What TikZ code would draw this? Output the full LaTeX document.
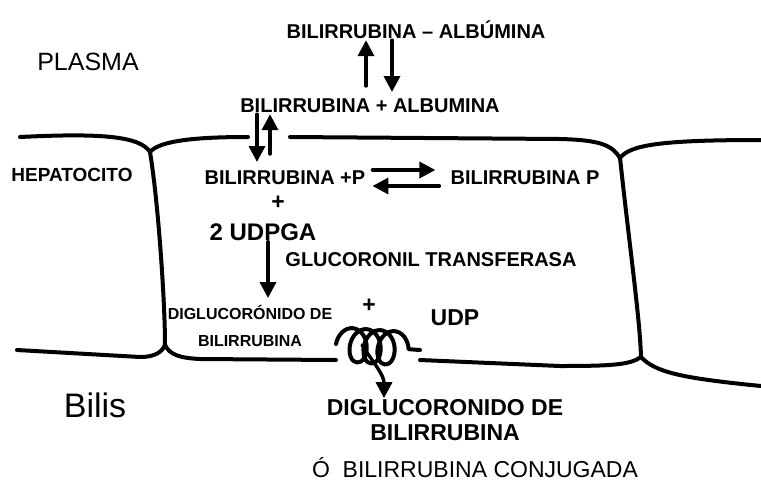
\documentclass[tikz,border=0pt]{standalone}
\usepackage{fontspec}
\setmainfont{Liberation Sans}
\usetikzlibrary{arrows.meta,decorations.pathmorphing}

\begin{document}
\begin{tikzpicture}[x=1pt, y=-1pt, >={Triangle[length=16pt,width=16pt]},
                    line cap=round, line join=round,
                    wall/.style={line width=4pt},
                    arr/.style={line width=3.4pt, ->},
                    lbl/.style={inner sep=1pt, font=\bfseries\fontsize{20}{24}\selectfont},
                    big/.style={inner sep=1pt, font=\fontsize{25}{28}\selectfont},
                    mid/.style={inner sep=1pt, font=\bfseries\fontsize{23}{25}\selectfont}]
  \useasboundingbox (0,0) rectangle (761,499);

  % regions
  \node[big] (plasma) at (88,62) {PLASMA};
  \node[big, font=\fontsize{34}{36}\selectfont] (bilis) at (95,405) {Bilis};
  \node[lbl, font=\bfseries\fontsize{19}{22}\selectfont] (hepa) at (72,175) {HEPATOCITO};

  % plasma side
  \node[lbl] (bilalb) at (416,30) {BILIRRUBINA -- ALBÚMINA};
  \node[lbl] (bilplus) at (370,106) {BILIRRUBINA + ALBUMINA};

  % inside the cell
  \node[lbl] (bilp) at (285,178) {BILIRRUBINA +P};
  \node[lbl] (bilP) at (525,178) {BILIRRUBINA P};
  \node[mid] (plus1) at (278,203) {+};
  \node[mid, font=\bfseries\fontsize{24}{26}\selectfont] (udpga) at (263,232) {2 UDPGA};
  \node[lbl] (enz) at (431,260) {GLUCORONIL TRANSFERASA};
  \node[lbl, font=\bfseries\fontsize{16}{27}\selectfont, align=center] (dig1) at (250,326) {DIGLUCORÓNIDO DE\\BILIRRUBINA};
  \node[mid] (plus2) at (369,306) {+};
  \node[mid] (udp) at (455,318) {UDP};

  % bile side
  \node[mid, align=center] (dig2) at (445,420) {DIGLUCORONIDO DE\\BILIRRUBINA};
  \node[inner sep=1pt, font=\fontsize{23}{25}\selectfont] (conj) at (475,468) {Ó \ BILIRRUBINA CONJUGADA};

  % cell walls
  \draw[wall] (20,137) .. controls (100,133) and (140,136) .. (150,152);
  \draw[wall] (150,152) .. controls (160,140) and (200,137) .. (248,137);
  \draw[wall] (290,137) -- (560,139) .. controls (600,140) and (612,145) .. (620,158);
  \draw[wall] (620,158) .. controls (630,145) and (660,140) .. (761,140);
  \draw[wall] (150,152) .. controls (158,200) and (165,300) .. (165,345);
  \draw[wall] (620,158) .. controls (630,250) and (640,320) .. (641,357);
  \draw[wall] (17,350) -- (140,357) .. controls (155,357) and (162,352) .. (165,345);
  \draw[wall] (165,345) .. controls (170,355) and (180,358) .. (200,359) -- (336,360);
  \draw[wall] (420,360) -- (560,366) .. controls (610,366) and (630,365) .. (641,357);
  \draw[wall] (641,357) .. controls (655,372) and (680,378) .. (761,386);

  % transporter
  \coordinate (sq1) at (336,344);
  \coordinate (sq2) at (420,350);
  \draw[wall, decorate, decoration={coil, amplitude=17pt, segment length=14pt, aspect=0.7}] (sq1) -- (sq2);
  \coordinate (sqout) at (362,345);

  % arrows
  \path[arr]
    (366,86) edge (bilalb.south -| 366,0)
    (bilalb.south -| 392,0) edge (392,92)
    (bilplus.south -| 257,0) edge (257,162)
    (270,154) edge (bilplus.south -| 270,0)
    (udpga.south -| 268,0) edge (268,298);
  \draw[arr] ([xshift=6pt,yshift=8pt]bilp.east) -- ([xshift=-14pt,yshift=8pt]bilP.west);
  \draw[arr] ([xshift=-10pt,yshift=-8pt]bilP.west) -- ([xshift=6pt,yshift=-8pt]bilp.east);
  \draw[arr] (sqout) .. controls (375,365) and (384,375) .. (dig2.north -| 384,0);
\end{tikzpicture}
\end{document}
